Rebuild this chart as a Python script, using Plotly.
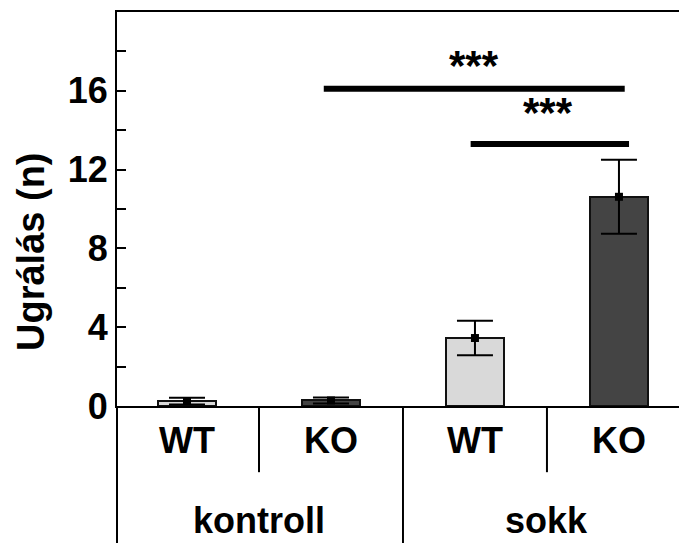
import plotly.graph_objects as go

groups = ["kontroll", "kontroll", "sokk", "sokk"]
genotypes = ["WT", "KO", "WT", "KO"]
means = [0.25, 0.28, 3.45, 10.62]
errors = [0.17, 0.15, 0.88, 1.88]
colors = ["#d9d9d9", "#444444", "#d9d9d9", "#444444"]
ytickvals = [0, 4, 8, 12, 16]
pos = list(range(len(genotypes)))

FONT = "Liberation Sans, Arial, sans-serif"
FS = 36

fig = go.Figure()
fig.add_trace(go.Bar(
    x=pos, y=means, width=0.4,
    marker=dict(color=colors, line=dict(color="#111111", width=2)),
    showlegend=False,
))
fig.add_trace(go.Scatter(
    x=pos, y=means, mode="markers",
    marker=dict(symbol="square", size=8, color="black"),
    error_y=dict(type="data", array=errors, visible=True, color="black", thickness=2, width=18),
    showlegend=False,
))

# group divider lines below the axis
shapes = []
shapes.append(dict(type="line", xref="x", yref="paper", x0=0.5, x1=0.5, y0=0, y1=-0.168,
                   line=dict(color="black", width=2)))
shapes.append(dict(type="line", xref="x", yref="paper", x0=2.5, x1=2.5, y0=0, y1=-0.168,
                   line=dict(color="black", width=2)))
shapes.append(dict(type="line", xref="x", yref="paper", x0=1.5, x1=1.5, y0=0, y1=-0.4,
                   line=dict(color="black", width=2)))
shapes.append(dict(type="line", xref="paper", yref="paper", x0=0, x1=0, y0=0, y1=-0.4,
                   line=dict(color="black", width=2)))
# significance bars
shapes.append(dict(type="line", xref="x", yref="y", x0=0.95, x1=3.04, y0=16.1, y1=16.1,
                   line=dict(color="black", width=6)))
shapes.append(dict(type="line", xref="x", yref="y", x0=1.97, x1=3.07, y0=13.3, y1=13.3,
                   line=dict(color="black", width=6)))

annotations = [
    dict(x=0.5, y=-0.3477, xref="x", yref="paper", text="<b>kontroll</b>", showarrow=False,
         font=dict(size=FS, family=FONT, color="black"), yanchor="bottom"),
    dict(x=2.5, y=-0.3477, xref="x", yref="paper", text="<b>sokk</b>", showarrow=False,
         font=dict(size=FS, family=FONT, color="black"), yanchor="bottom"),
    dict(x=1.99, y=17.3, xref="x", yref="y", text="<b>***</b>", showarrow=False,
         font=dict(size=42, family=FONT, color="black"), yanchor="middle"),
    dict(x=2.51, y=14.9, xref="x", yref="y", text="<b>***</b>", showarrow=False,
         font=dict(size=42, family=FONT, color="black"), yanchor="middle"),
    dict(x=-0.153, y=0.391, xref="paper", yref="paper", text="<b>Ugrálás (n)</b>",
         textangle=-90, showarrow=False, xanchor="center", yanchor="middle",
         font=dict(size=38, family=FONT, color="black")),
]

fig.update_layout(
    width=679, height=543,
    margin=dict(l=117, r=0, t=12, b=137),
    paper_bgcolor="white", plot_bgcolor="white",
    shapes=shapes, annotations=annotations,
    bargap=0,
    font=dict(family=FONT, color="black"),
)
fig.update_xaxes(
    range=[-0.486, 3.417], tickvals=pos,
    ticktext=["<b>%s</b>" % g for g in genotypes],
    tickfont=dict(size=FS, family=FONT, color="black"),
    ticks="", showline=True, linecolor="black", linewidth=2, mirror=True,
    showgrid=False, zeroline=False, ticklabelstandoff=2, automargin=False,
)
fig.update_yaxes(
    range=[0, 20], tickvals=ytickvals,
    ticktext=["<b>%d</b>" % v for v in ytickvals],
    tickfont=dict(size=FS, family=FONT, color="black"),
    ticks="inside", ticklen=9, tickwidth=2, tickcolor="black",
    minor=dict(tickvals=[2, 6, 10, 14, 18], ticks="inside", ticklen=9, tickwidth=2, tickcolor="black"),
    showline=True, linecolor="black", linewidth=2,
    showgrid=False, zeroline=False, automargin=False,
)

fig.write_html("out.html", config={"displayModeBar": False},
               post_script="document.body.style.margin='0';")
